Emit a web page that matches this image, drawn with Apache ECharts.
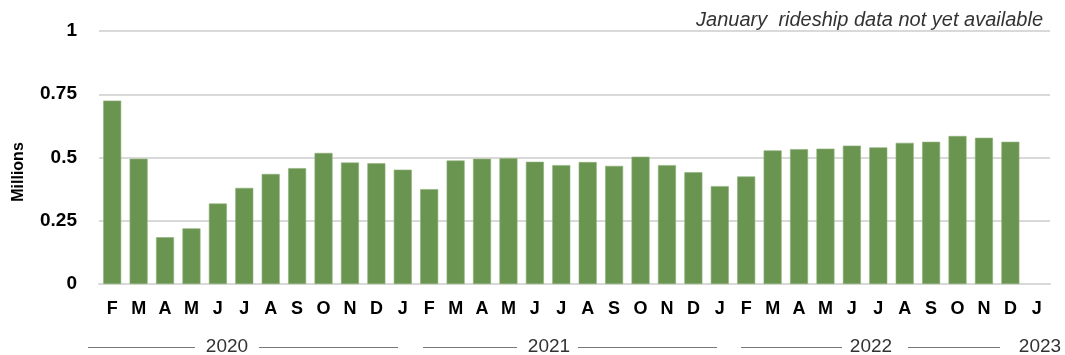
<!DOCTYPE html>
<html>
<head>
<meta charset="utf-8">
<script src="https://cdn.jsdelivr.net/npm/echarts@6/dist/echarts.min.js"></script>
<style>
  html, body { margin: 0; padding: 0; background: #fff; }
  #chart { width: 1065px; height: 355px; }
</style>
</head>
<body>
<div id="chart"></div>
<script>
// Monthly ridership, Feb 2020 – Jan 2023 (millions)
const months = ['F','M','A','M','J','J','A','S','O','N','D',
                'J','F','M','A','M','J','J','A','S','O','N','D',
                'J','F','M','A','M','J','J','A','S','O','N','D',
                'J'];
const ridership = [0.725, 0.495, 0.185, 0.22, 0.318, 0.38, 0.435, 0.458, 0.518, 0.48, 0.477,
                   0.452, 0.375, 0.488, 0.495, 0.497, 0.483, 0.47, 0.482, 0.467, 0.503, 0.47, 0.442,
                   0.387, 0.425, 0.528, 0.533, 0.535, 0.547, 0.54, 0.558, 0.562, 0.585, 0.578, 0.562,
                   null];
const yTicks = [0, 0.25, 0.5, 0.75, 1];
const years = ['2020', '2021', '2022', '2023'];
const unitLabel = 'Millions';
const note = 'January  rideship data not yet available';

const FONT = '"Liberation Sans", Arial, Helvetica, sans-serif';
const chart = echarts.init(document.getElementById('chart'));

// year band under the month axis: label centre and the rules either side
const yearBand = [
  { text: years[0], x: 227, lines: [[88, 195], [259, 398]] },
  { text: years[1], x: 549, lines: [[423, 517], [578, 717]] },
  { text: years[2], x: 871, lines: [[741, 842], [908, 1000]] },
  { text: years[3], x: 1040, lines: [] }
];
const bandY = 347;
const graphics = [];
yearBand.forEach(y => {
  graphics.push({
    type: 'text', silent: true, x: y.x, y: bandY,
    style: { text: y.text, font: '19px ' + FONT, fill: '#333', textAlign: 'center', textVerticalAlign: 'middle' }
  });
  y.lines.forEach(l => graphics.push({
    type: 'line', silent: true,
    shape: { x1: l[0], y1: bandY + 0.5, x2: l[1], y2: bandY + 0.5 },
    style: { stroke: '#777', lineWidth: 1 }
  }));
});
// vertical unit label
graphics.push({
  type: 'text', silent: true, x: 19, y: 172, rotation: Math.PI / 2,
  style: { text: unitLabel, font: 'bold 16px ' + FONT, fill: '#000', textAlign: 'center', textVerticalAlign: 'middle' }
});
// availability note, top right
graphics.push({
  type: 'text', silent: true, x: 1043, y: 20,
  style: { text: note, font: 'italic 20px ' + FONT, fill: '#333', textAlign: 'right', textVerticalAlign: 'middle' }
});

chart.setOption({
  animation: false,
  grid: { left: 99, right: 15, top: 31, bottom: 71, outerBoundsMode: 'none', containLabel: false },
  xAxis: {
    type: 'category',
    data: months,
    axisLine: { lineStyle: { color: '#d9d9d9', width: 2 } },
    axisTick: { show: false },
    axisLabel: { color: '#000', fontWeight: 'bold', fontSize: 18, fontFamily: FONT, margin: 16, interval: 0 }
  },
  yAxis: {
    type: 'value',
    min: yTicks[0], max: yTicks[yTicks.length - 1], interval: 0.25,
    axisLine: { show: false },
    axisTick: { show: false },
    splitLine: { lineStyle: { color: '#d9d9d9', width: 2 } },
    axisLabel: {
      color: '#000', fontWeight: 'bold', fontSize: 19, fontFamily: FONT, margin: 22,
      formatter: v => String(v)
    }
  },
  series: [{
    type: 'bar',
    data: ridership,
    barWidth: 18,
    itemStyle: { color: '#6a9550', borderColor: '#8fb07a', borderWidth: 0.6 }
  }],
  graphic: graphics
});
</script>
</body>
</html>
